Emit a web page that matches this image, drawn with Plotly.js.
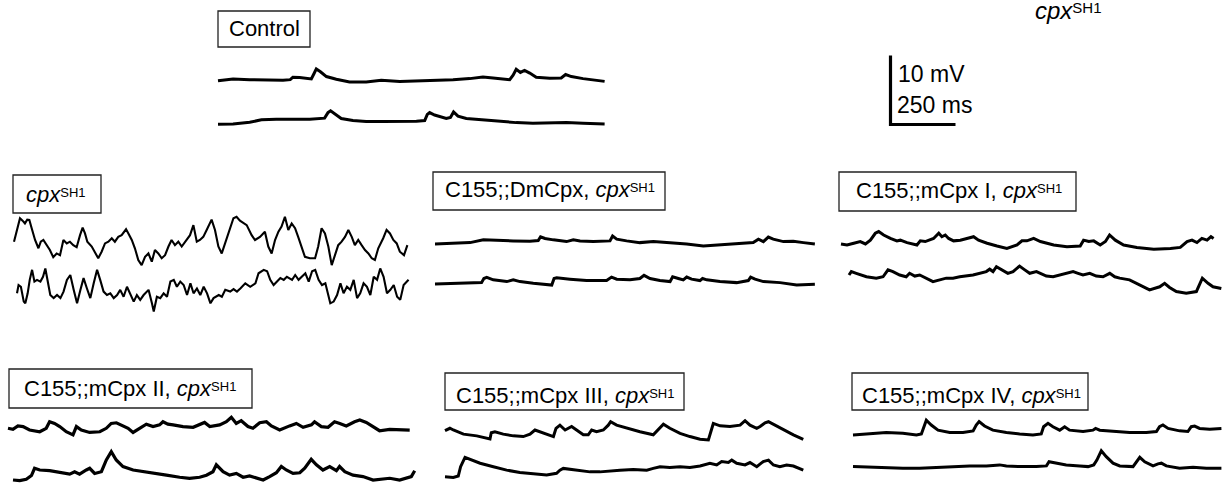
<!DOCTYPE html>
<html><head><meta charset="utf-8">
<script src="https://cdn.plot.ly/plotly-3.0.1.min.js"></script>
<style>html,body{margin:0;padding:0;background:#fff;}#chart{width:1222px;height:483px;}</style>
</head><body><div id="chart"></div>
<script>
// ---------- recorded traces: time (ms) and membrane potential change (mV) ----------
const ctrl1_t = [0,58,122,186,250,278,288,314,359,369,378,394,417,455,506,570,628,699,763,827,904,968,1019,1058,1122,1135,1147,1163,1179,1199,1224,1276,1320,1337,1359,1404,1442,1487];
const ctrl1_v = [-0.1,0.15,0.05,0,-0.05,0.05,0.4,0.35,0.15,0.9,1.6,1.2,0.5,0.1,-0.3,-0.3,-0.05,-0.2,-0.15,-0.1,0.05,0.2,0.45,0.3,0.05,0.7,1.55,1.1,1.4,1.0,0.4,0.25,0.3,0.8,0.5,0.2,0,-0.2];
const ctrl2_t = [0,58,122,167,224,288,353,410,423,433,449,474,519,570,635,699,763,795,805,814,833,878,894,906,923,955,1019,1083,1147,1211,1276,1340,1404,1487];
const ctrl2_v = [-0.05,0,0.25,0.6,0.7,0.7,0.7,0.85,1.65,1.9,1.45,0.8,0.5,0.35,0.35,0.35,0.4,0.5,1.4,1.65,1.3,0.8,0.95,1.75,1.15,0.8,0.6,0.35,0.2,0.1,0.2,0.2,0.1,0];

const cpx1_t = [0,8,17,23,33,42,51,59,68,81, 94,103,113,126,138,151,164,177,190,203, 215,228,241,254,264,273,282,299,312,324, 337,350,363,376,388,401,414,431,440,453, 465,478,491,504,517,530,542,555,568,581, 594,606,619,632,645,658,677,690,703,715, 728,741,760,773,786,799,812,831,844,856, 869,895,914,927,946,965,978,991,1004,1017, 1029,1042,1055,1068,1081,1093,1106,1119,1138,1158, 1170,1183,1196,1209,1222,1235,1247,1260,1273,1286, 1299,1311,1324,1337,1350,1363,1376,1388,1401,1420, 1433,1446,1459,1472,1484,1500,1513];
const cpx1_v = [0,1.2,2.9,3.4,3.05,2.65,3.2,3.15,1.95,0.25, -0.95,0,0.25,-0.5,-1.2,-2.25,-1.7,-1.95,0.25,-0.25, 0,-0.5,-0.8,0.95,2.05,1.2,0,-0.7,-1.6,-2.4, -1.45,-0.25,0,0.5,0,0.7,0.95,1.8,1.2,0.25, -0.95,-2.65,-3.4,-2.2,-1.7,-2.9,-1.2,-1.7,-2.4,-1.95, -0.7,0.25,-0.5,0,-0.7,0,0.95,2.4,0,0.25, 0.7,1.7,3.2,1.7,-0.7,-1.7,-0.25,1.7,3.4,3.6, 3.05,2.4,0.95,0.25,0.7,1.45,-0.7,-1.7,0.25,1.45, 2.2,3.6,1.7,2.65,1.95,0.7,-0.7,-2.2,-2.4,-2.4, -0.7,1.95,1.2,-0.7,-3.4,-1.95,-0.5,0,0.7,1.7, 0.7,-0.5,0.25,-0.5,-1.2,-1.7,-2.4,-2.65,-0.95,0.5, 1.7,1.2,0.25,-0.25,-1.45,-1.95,-0.5];
const cpx2_t = [0,6,15,26,32,41,49,58,67,77, 90,100,109,118,128,141,154,167,179,192, 205,218,231,244,256,269,282,295,308,320, 333,346,359,372,385,397,410,423,436,449, 461,474,487,506,519,526,538,551,564,577, 590,603,615,628,641,654,667,679,692,705, 718,731,744,756,776,788,801,820,833,846, 859,878,897,917,929,949,962,974,987,1000, 1013,1026,1038,1058,1070,1083,1096,1109,1122,1135, 1147,1160,1173,1186,1205,1218,1231,1244,1256,1269, 1282,1295,1308,1320,1333,1346,1359,1372,1385,1397, 1410,1423,1436,1449,1462,1474,1487,1506];
const cpx2_v = [0,1.2,0.95,-1.2,-1.45,0,1.95,3.4,1.7,1.95, 1.7,2.4,3.6,1.95,-0.25,-0.7,-0.25,-0.7,0.25,1.95, 2.65,0.5,-1.45,0.5,2.2,0.7,-0.7,1.45,3.4,1.95, 0.25,-0.25,0,-0.7,-0.25,0.5,-0.5,0.95,-0.25,-1.2, -0.25,-0.95,-0.25,0.5,-1.45,-2.65,-0.5,-0.7,0,-0.5, 1.7,1.95,0.95,1.7,1.2,-0.25,1.45,0,0.7,-0.25, 0.95,0,-1.45,-0.7,-0.25,-0.5,0.5,0.25,0.6,0.25, 0.7,1.45,0.95,1.45,2.9,3.4,3.2,1.95,1.2,1.7, 2.2,1.95,2.4,1.95,2.65,1.95,2.4,2.9,1.7,3.2, 3.4,1.95,1.2,1.45,-1.45,-1.2,-0.25,1.45,0,0.95, 0.5,1.95,-0.7,0,1.45,0.95,-0.25,2.4,1.95,3.6, 2.4,0,0.5,1.2,-0.5,-0.95,1.2,1.95];

const dm1_t = [0,71,135,186,237,301,365,397,406,423,455,506,532,558,609,673,683,699,737,788,840,904,968,1032,1096,1160,1224,1244,1263,1282,1301,1340,1378,1417,1461];
const dm1_v = [0,0.1,0.2,0.6,0.5,0.45,0.4,0.5,1.05,0.8,0.6,0.35,0.6,0.45,0.35,0.45,1.15,0.7,0.45,0.2,0.35,0.2,0,-0.3,-0.1,0,0.2,0.7,0.35,1.0,0.7,0.35,0.4,0.2,0];
const dm2_t = [0,71,135,179,188,199,224,276,301,327,378,449,458,468,519,583,660,679,699,750,788,804,827,865,904,914,936,955,968,987,1019,1029,1045,1096,1160,1205,1214,1231,1263,1327,1391,1461];
const dm2_v = [0,0.1,0.1,0.2,0.8,0.95,0.6,0.35,0.6,0.35,0.1,-0.15,0.8,0.9,0.7,0.5,0.5,1.0,0.7,0.6,0.8,1.25,0.8,0.5,0.35,1.05,0.8,0.6,1.0,0.7,0.5,0.8,0.6,0.35,0.2,0.5,1.0,0.7,0.35,0.2,-0.15,-0.05];

const m1a_t = [0,23,49,74,94,113,132,145,164,190,215,228,254,292,305,324,356,376,388,401,414,433,459,491,510,529,562,600,638,677,696,715,741,767,818,869,920,933,953,972,997,1017,1033,1055,1087,1138,1203,1267,1305,1331,1350,1369,1388,1408,1423,1433];
const m1a_v = [0.15,0,0.25,0.5,0.15,0.7,1.7,1.95,1.45,0.95,0.6,0.7,0.35,0,0.6,0.5,0.95,1.7,1.2,1.45,0.95,0.6,0.7,1.05,1.2,0.7,0.25,-0.15,-0.5,0,0.6,0.6,0.95,0.5,0,-0.25,-0.15,0.7,0.5,0.6,0,0.5,1.45,0.7,0,-0.35,-0.6,-0.5,-0.35,0.5,0.7,0.35,0.95,0.7,1.2,0.95];
const m1b_t = [0,9,28,67,105,131,150,169,195,220,233,253,272,297,323,349,374,400,426,477,503,528,541,554,567,586,611,631,656,676,695,721,759,785,810,836,862,881,900,926,951,977,1003,1022,1041,1079,1118,1156,1195,1214,1233,1259,1297,1336,1359,1381,1400,1432];
const m1b_v = [-0.25,0.25,0,-0.5,-0.7,-0.5,0.5,0.25,-0.25,-0.5,0,-0.4,-0.25,-0.7,-1.2,-0.95,-0.7,-0.7,-0.5,-0.25,0,0.25,0.6,0.25,0.95,0.5,0,0.25,1.05,0.5,0,0.25,-0.4,-0.5,-0.25,0,0.25,0,-0.25,0,-0.4,-0.5,0,-0.5,-0.7,-0.95,-1.7,-2.4,-1.95,-1.45,-2.05,-2.65,-2.9,-2.65,-0.7,-1.45,-1.95,-2.2];

const m2a_t = [0,19,38,58,83,122,147,160,179,199,224,250,263,282,314,353,378,397,417,436,462,481,506,532,558,583,596,615,635,673,712,737,756,776,814,840,859,878,897,923,942,968,994,1013,1045,1083,1109,1135,1167,1179,1205,1231,1256,1276,1301,1333,1353,1378,1404,1429,1468,1506,1545];
const m2a_v = [0,-0.15,0.35,0.25,-0.25,-0.5,0,0.95,0.7,0.25,-0.5,-0.95,0.25,-0.25,-0.6,-0.5,0,0.7,0.8,0.5,0,-0.6,0,0.6,0.25,0.5,0.95,0.6,0.5,0.25,0.15,0.5,0.85,0.25,0.5,0.95,1.6,0.7,1.1,0.25,0,0.8,0.95,0.35,-0.25,0.35,0.7,0.15,0.5,0.95,0.25,0.15,0.95,0.7,0.35,0.95,1.2,0.85,0.25,-0.35,-0.15,-0.25,-0.25];
const m2b_t = [0,26,51,71,83,103,141,179,218,237,256,282,295,314,340,359,378,397,423,462,500,551,590,641,679,718,744,769,782,808,833,859,885,910,936,962,987,1013,1032,1051,1077,1103,1122,1147,1167,1192,1218,1244,1256,1276,1308,1346,1385,1423,1449,1487,1513,1532,1545];
const m2b_v = [0,-0.1,0.1,0.65,1.7,1.45,1.35,1.05,0.85,1.2,0.85,1.45,1.7,0.95,1.2,2.9,4.1,2.9,1.95,1.45,1.2,0.85,0.7,0.4,0.25,0.4,0.7,1.2,2.2,1.2,0.7,0.95,0.4,0.6,0.25,0,0.5,1.05,1.95,1.45,0.95,1.05,1.7,3.0,2.2,1.45,1.95,1.35,1.95,1.2,0.7,0.5,0,0.1,0.25,0,0.25,0.5,1.35];

const m3a_t = [0,19,32,71,122,160,173,178,192,224,263,301,327,346,365,391,417,427,442,462,487,506,532,551,564,583,609,628,637,660,699,750,801,827,840,865,904,942,981,1013,1026,1032,1058,1096,1135,1154,1173,1199,1212,1231,1244,1269,1301,1340,1378];
const m3a_v = [-0.1,0.25,0,-0.6,-0.85,-1.2,-1.3,-0.4,-0.25,-0.6,-0.85,-0.95,-0.6,0,-0.25,-0.6,-0.95,0.25,0.7,0,0.5,0,-0.7,-0.7,0,-0.25,0,0.7,1.2,0.7,0.25,-0.25,-0.7,0.25,0.85,0.25,-0.5,-0.95,-1.35,-1.45,0,0.95,0.6,0.5,0.7,1.35,0.7,0.25,0.5,1.05,1.2,0.7,0,-0.7,-1.35];
const m3b_t = [0,32,51,60,77,96,135,186,237,288,340,391,429,442,455,481,519,558,596,635,673,724,776,801,827,865,904,942,981,1019,1045,1064,1090,1103,1122,1154,1173,1199,1224,1244,1263,1288,1314,1340,1378];
const m3b_v = [0,-0.1,0.1,1.45,2.8,2.5,1.95,1.45,0.95,0.6,0.4,0.25,0.5,0.95,1.2,1.05,0.85,0.7,0.7,0.85,0.95,1.05,0.95,1.2,1.45,1.35,1.45,1.35,1.55,1.95,1.7,2.2,2.05,2.4,1.95,1.7,2.05,1.45,2.2,2.4,1.7,1.45,1.7,1.55,0.95];

const m4a_t = [0,64,128,192,244,263,272,282,301,327,372,423,462,474,485,506,538,590,641,692,724,733,750,769,795,814,833,885,923,933,949,1000,1064,1128,1167,1179,1192,1212,1256,1288,1301,1314,1333,1372,1417];
const m4a_v = [0,0.15,0.35,0.25,0,0.15,1.2,2.15,1.45,0.7,0.35,0.35,0.6,1.45,1.95,1.3,0.7,0.35,0.15,0,0.15,1.2,1.7,1.2,0.7,1.2,0.7,0.5,0.7,0.95,0.7,0.5,0.35,0.35,0.5,1.2,1.45,0.95,0.6,0.5,1.2,1.3,0.95,0.85,0.95];
const m4b_t = [0,64,128,192,256,321,385,449,513,564,590,641,705,744,754,769,820,872,904,926,938,955,974,1000,1026,1077,1090,1103,1122,1154,1173,1186,1205,1256,1308,1359,1417];
const m4b_v = [0.1,0,-0.15,-0.15,-0.15,0,0.1,0.2,0.2,0.35,0.2,0.1,0.1,0.2,0.8,0.7,0.35,0.2,0.1,0.35,1.05,2.4,1.55,0.6,0.2,0.1,0.8,1.45,0.8,0.2,0.5,0.6,0.2,-0.15,0,-0.15,-0.15];

// scale bar (10 mV, 250 ms)
const scale_t = [0,0,250];
const scale_v = [10,0,0];
const scaleLabels = ['10 mV','250 ms'];

// panel labels
const SUP = "<i>cpx</i><span style='font-size:13px;baseline-shift:5px'>SH1</span>";
const panelLabels = ['Control', SUP, 'C155;;DmCpx, '+SUP, 'C155;;mCpx I, '+SUP, 'C155;;mCpx II, '+SUP, 'C155;;mCpx III, '+SUP, 'C155;;mCpx IV, '+SUP];
const cornerLabel = "<i>cpx</i><span style='font-size:15px;baseline-shift:6px'>SH1</span>";

// ---------- layout ----------
const W = 1222, H = 483;
const PX_PER_MS = 65/250, PX_PER_MV = 69/10;
const FONT = 'Liberation Sans, Arial, Helvetica, sans-serif';

const traces = [];
const layout = {width:W, height:H, margin:{l:0,r:0,t:0,b:0}, paper_bgcolor:'#fff', plot_bgcolor:'rgba(0,0,0,0)',
  showlegend:false, shapes:[], annotations:[], font:{family:FONT, color:'#000'}};
let k = 0;
function place(t, v, x0, base, lw, padTop){
  k++;
  padTop = padTop || 42;
  const xn = k===1?'xaxis':'xaxis'+k, yn = k===1?'yaxis':'yaxis'+k;
  const xid = k===1?'x':'x'+k, yid = k===1?'y':'y'+k;
  const left = Math.max(0, x0-6), right = Math.min(W, x0+1560*PX_PER_MS);
  const top = Math.max(0, base-padTop), bot = Math.min(H, base+42);
  layout[xn] = {domain:[left/W, right/W], range:[(left-x0)/PX_PER_MS, (right-x0)/PX_PER_MS], visible:false, fixedrange:true, anchor:yid};
  layout[yn] = {domain:[1-bot/H, 1-top/H], range:[(base-bot)/PX_PER_MV, (base-top)/PX_PER_MV], visible:false, fixedrange:true, anchor:xid};
  traces.push({x:t, y:v, xaxis:xid, yaxis:yid, type:'scatter', mode:'lines', line:{color:'#000', width:lw}, hoverinfo:'skip'});
}
// [t, v, left px, baseline px, width]
place(ctrl1_t, ctrl1_v, 218, 80, 3.0);
place(ctrl2_t, ctrl2_v, 218, 124, 3.0);
place(cpx1_t, cpx1_v, 14, 241.7, 2.1);
place(cpx2_t, cpx2_v, 17, 293.3, 2.1);
place(dm1_t, dm1_v, 435, 244, 3.0);
place(dm2_t, dm2_v, 435, 284, 3.0);
place(m1a_t, m1a_v, 841, 245, 3.0);
place(m1b_t, m1b_v, 849, 273.3, 3.0);
place(m2a_t, m2a_v, 8, 428.3, 3.2);
place(m2b_t, m2b_v, 13, 480, 3.2);
place(m3a_t, m3a_v, 445, 430, 3.0);
place(m3b_t, m3b_v, 445, 476.7, 3.0);
place(m4a_t, m4a_v, 853, 435, 3.0);
place(m4b_t, m4b_v, 853, 467.3, 3.0);
place(scale_t, scale_v, 890.5, 124.5, 3.2, 90);

// label boxes [left, top, right, bottom] and text centre x / baseline y (px)
const boxes = [[218,11,310,47],[13,175,101,213],[433,172,665,210],[839,172,1076,211],[9,369,252,408],[445,373,684,410],[852,373,1088,410]];
const textPos = [[264,37.7],[56.5,203.3],[549.5,198.5],[959,199.3],[129.7,397.3],[565.5,404],[971,404]];
const FS = 22;
boxes.forEach((b,i)=>{
  layout.shapes.push({type:'rect', xref:'paper', yref:'paper', x0:b[0]/W, x1:b[2]/W, y0:1-b[3]/H, y1:1-b[1]/H, line:{color:'#222', width:1.3}, fillcolor:'rgba(0,0,0,0)'});
  const p = textPos[i];
  layout.annotations.push({xref:'paper', yref:'paper', x:p[0]/W, y:1-(p[1]+0.212*FS)/H, xanchor:'center', yanchor:'bottom', borderpad:0,
    showarrow:false, text:panelLabels[i], font:{size:FS, family:FONT, color:'#000'}});
});
layout.annotations.push({xref:'paper', yref:'paper', x:897/W, y:1-73.5/H, xanchor:'left', yanchor:'middle', borderpad:0, showarrow:false, text:scaleLabels[0], font:{size:23, family:FONT, color:'#000'}});
layout.annotations.push({xref:'paper', yref:'paper', x:896/W, y:1-105/H, xanchor:'left', yanchor:'middle', borderpad:0, showarrow:false, text:scaleLabels[1], font:{size:23, family:FONT, color:'#000'}});
layout.annotations.push({xref:'paper', yref:'paper', x:1034/W, y:1-(20+0.212*24)/H, xanchor:'left', yanchor:'bottom', borderpad:0, showarrow:false, text:cornerLabel, font:{size:24, family:FONT, color:'#000'}});

Plotly.newPlot('chart', traces, layout, {staticPlot:true, displayModeBar:false});
</script></body></html>
